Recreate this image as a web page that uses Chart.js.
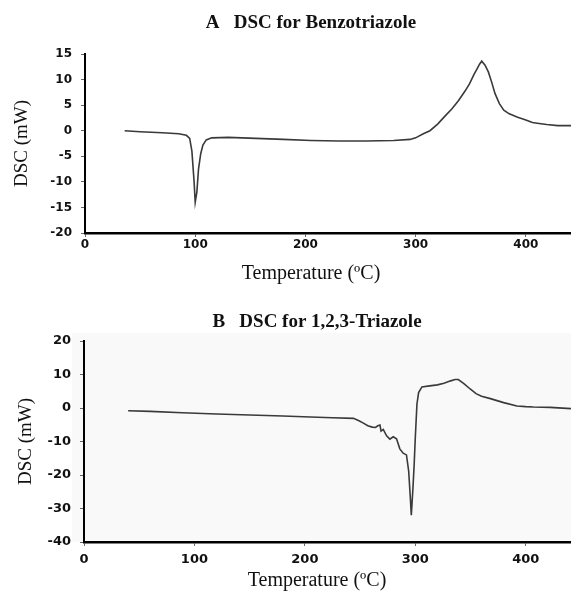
<!DOCTYPE html>
<html>
<head>
<meta charset="utf-8">
<title>DSC</title>
<script src="https://cdn.jsdelivr.net/npm/chart.js"></script>
<style>
  html, body { margin: 0; padding: 0; background: #fff; }
  #wrap { position: relative; width: 571px; height: 592px; overflow: hidden; }
  canvas { position: absolute; left: 0; }
  #chartA { top: 0; }
  #chartB { top: 290px; }
</style>
</head>
<body>
<div id="wrap">
  <canvas id="chartA" width="571" height="290"></canvas>
  <canvas id="chartB" width="571" height="302"></canvas>
</div>
<script>
// Panel A: Benzotriazole
const tempA = [36, 50, 70, 85, 92, 95, 97, 99, 100, 101.5, 103, 105, 107, 110, 115, 130, 155, 180, 205, 230,
  255, 280, 295, 300, 307, 313, 320, 326, 333, 339, 345, 349, 353, 356, 358, 360, 363, 366, 369, 372,
  376, 380, 385, 392, 400, 406, 412, 419, 429, 441];
const dscA = [0.0, -0.2, -0.4, -0.6, -0.9, -1.5, -4.0, -10.0, -14.0, -12.0, -7.5, -4.5, -2.8, -1.8, -1.4, -1.3, -1.5, -1.7, -1.9, -2.0,
  -2.0, -1.9, -1.7, -1.4, -0.6, 0.0, 1.3, 2.7, 4.3, 5.9, 7.8, 9.2, 11.0, 12.2, 13.0, 13.6, 12.8, 11.5, 9.5, 7.3,
  5.3, 4.0, 3.3, 2.7, 2.1, 1.6, 1.4, 1.2, 1.0, 1.0];
const yTicksA = [-20, -15, -10, -5, 0, 5, 10, 15];

// Panel B: 1,2,3-Triazole
const tempB = [40, 60, 89, 120, 150, 180, 205, 225, 244, 249, 253, 257, 261, 264, 266, 268, 269, 271, 274, 277,
  280, 283, 286, 289, 292, 294, 295.5, 296.4, 297.9, 299, 300, 301.5, 303, 306, 313, 320, 326, 332, 336, 339,
  344, 350, 355, 360, 368, 380, 392, 400, 407, 422, 441];
const dscB = [-0.8, -1.0, -1.4, -1.8, -2.1, -2.4, -2.7, -2.9, -3.1, -3.8, -4.5, -5.3, -5.7, -5.8, -5.3, -5.1, -6.9, -6.4, -8.3, -9.3,
  -8.6, -9.2, -12.2, -13.5, -14.0, -18.8, -26.8, -32.0, -23.8, -16.7, -8.9, 1.2, 4.6, 6.3, 6.6, 6.9, 7.4, 8.1, 8.5, 8.5,
  7.3, 5.6, 4.3, 3.5, 2.8, 1.6, 0.6, 0.4, 0.3, 0.2, -0.2];
const yTicksB = [-40, -30, -20, -10, 0, 10, 20];

const xTicks = [0, 100, 200, 300, 400];

// draws the panel title and the x axis title centred on a given x
const captions = {
  id: 'captions',
  beforeDraw(chart, args, opts) {
    if (opts.fill) {
      const a = chart.chartArea;
      chart.ctx.save();
      chart.ctx.fillStyle = opts.fill;
      chart.ctx.fillRect(a.left - 12, a.top - 8, a.right - a.left + 12, a.bottom - a.top + 8);
      chart.ctx.restore();
    }
  },
  afterDraw(chart, args, opts) {
    const ctx = chart.ctx;
    ctx.save();
    ctx.fillStyle = '#111';
    ctx.textAlign = 'center';
    ctx.textBaseline = 'middle';
    ctx.font = 'bold 19px "Liberation Serif"';
    ctx.fillText(opts.title, opts.cx, opts.titleY);
    ctx.font = '20px "Liberation Serif"';
    ctx.fillText(opts.xTitle, opts.cx, opts.xTitleY);
    ctx.restore();
  }
};

function makeChart(id, temps, vals, yTicks, o) {
  const pts = temps.map((t, i) => ({x: t, y: vals[i]}));
  return new Chart(document.getElementById(id), {
    type: 'scatter',
    data: {
      datasets: [{
        data: pts,
        showLine: true,
        borderColor: '#3a3a3a',
        borderWidth: 1.6,
        pointRadius: 0,
        tension: 0
      }]
    },
    options: {
      responsive: false,
      animation: false,
      devicePixelRatio: 1,
      layout: { padding: { top: o.top, left: 0, right: 0, bottom: 0 } },
      plugins: {
        legend: { display: false },
        tooltip: { enabled: false },
        captions: o.captions
      },
      scales: {
        x: {
          type: 'linear',
          min: 0,
          max: 441,
          afterBuildTicks: s => { s.ticks = xTicks.map(v => ({value: v})); },
          afterFit: s => { s.height = o.xHeight; },
          border: { color: '#000', width: 2.5 },
          grid: { drawOnChartArea: false, tickLength: 4, color: '#666' },
          ticks: {
            padding: o.xPad,
            color: '#111',
            font: { family: 'DejaVu Sans', weight: 'bold', size: o.tickSize }
          }
        },
        y: {
          min: yTicks[0],
          max: yTicks[yTicks.length - 1],
          afterBuildTicks: s => { s.ticks = yTicks.map(v => ({value: v})); },
          afterFit: s => { s.width = o.yWidth; },
          border: { color: '#000', width: 2 },
          grid: { drawOnChartArea: false, tickLength: 4, color: '#666' },
          ticks: {
            padding: 9,
            color: '#111',
            font: { family: 'DejaVu Sans', weight: 'bold', size: o.tickSize }
          },
          title: {
            display: true,
            text: 'DSC (mW)',
            color: '#111',
            padding: { top: o.yTitlePad, bottom: 0 },
            font: { family: 'Liberation Serif', size: 19 }
          }
        }
      }
    },
    plugins: [captions]
  });
}

makeChart('chartA', tempA, dscA, yTicksA, {
  top: 54, xHeight: 57, yWidth: 85, xPad: 1, tickSize: 12, yTitlePad: 11,
  captions: { title: 'A   DSC for Benzotriazole', xTitle: 'Temperature (\u00BAC)', cx: 311, titleY: 23, xTitleY: 274 }
});

makeChart('chartB', tempB, dscB, yTicksB, {
  top: 51, xHeight: 50, yWidth: 84, xPad: 6, tickSize: 13, yTitlePad: 15,
  captions: { title: 'B   DSC for 1,2,3-Triazole', xTitle: 'Temperature (\u00BAC)', cx: 317, titleY: 32, xTitleY: 291, fill: '#f9f9f9' }
});
</script>
</body>
</html>
